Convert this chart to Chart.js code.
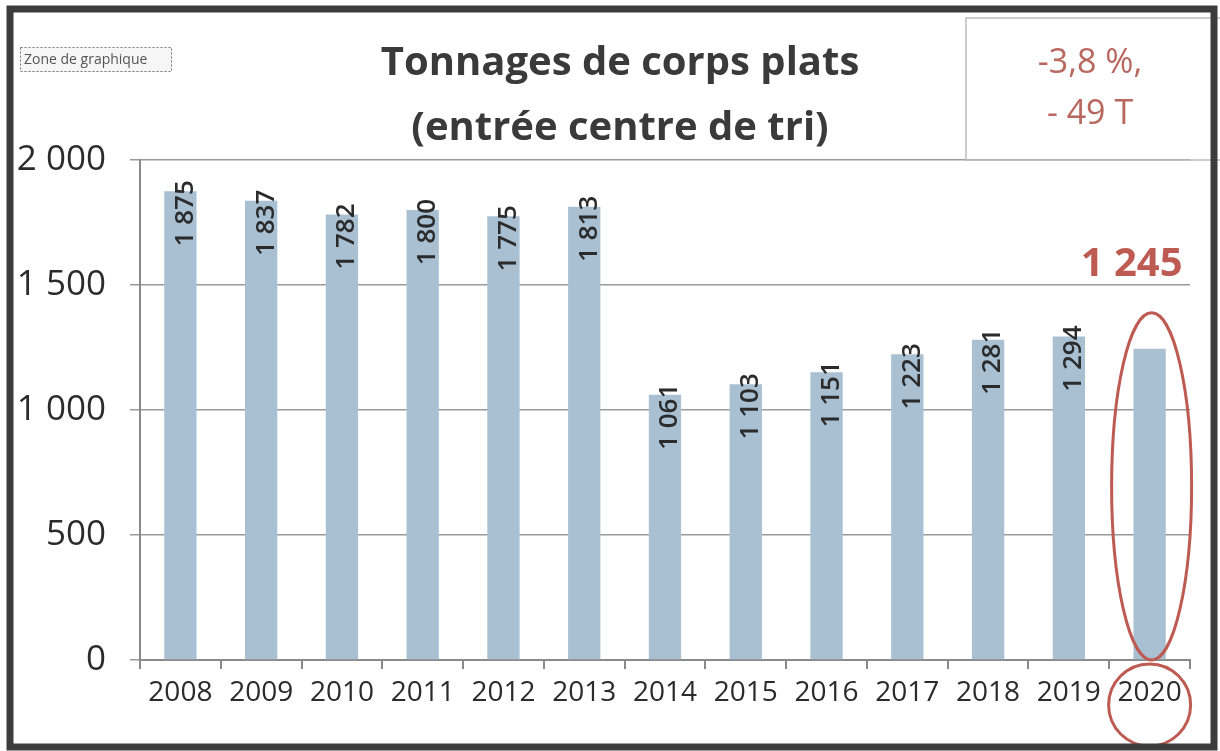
<!DOCTYPE html>
<html>
<head>
<meta charset="utf-8">
<script src="https://cdn.jsdelivr.net/npm/chart.js@4/dist/chart.umd.min.js"></script>
<style>
  html, body { margin: 0; padding: 0; background: #fff; }
  canvas { display: block; }
</style>
</head>
<body>
<canvas id="chart" width="1220" height="751"></canvas>
<script>
// données
const years = ['2008', '2009', '2010', '2011', '2012', '2013', '2014', '2015', '2016', '2017', '2018', '2019', '2020'];
const tonnages = [1875, 1837, 1782, 1800, 1775, 1813, 1061, 1103, 1151, 1223, 1281, 1294, 1245];
const yTicks = [0, 500, 1000, 1500, 2000];
const titleLines = ['Tonnages de corps plats', '(entrée centre de tri)'];
const deltaLines = ['-3,8 %,', '- 49 T'];

const RED = '#bd5b52';
const FONT = '"Open Sans", "DejaVu Sans", sans-serif';

function fmt(v) {
    return String(v).replace(/\B(?=(\d{3})+(?!\d))/g, ' ');
}

const decorPlugin = {
    id: 'decor',
    afterDraw(chart) {
        const ctx = chart.ctx;
        const x = chart.scales.x;
        const y = chart.scales.y;
        ctx.save();

        // étiquettes verticales dans les barres (sauf 2020)
        ctx.fillStyle = '#2b2b2b';
        ctx.font = '600 26px ' + FONT;
        ctx.textAlign = 'right';
        ctx.textBaseline = 'middle';
        tonnages.forEach(function(v, i) {
            if (i === tonnages.length - 1) return;
            const px = x.getPixelForValue(i) + 5;
            const py = y.getPixelForValue(v) - 11;
            ctx.save();
            ctx.translate(px, py);
            ctx.rotate(-Math.PI / 2);
            ctx.fillText(fmt(v), 0, 0);
            ctx.restore();
        });

        // titre
        ctx.fillStyle = '#3a3a3a';
        ctx.font = 'bold 40px ' + FONT;
        ctx.textAlign = 'center';
        ctx.fillText(titleLines[0], 620, 64);
        ctx.fillText(titleLines[1], 620, 129);

        // encadré en haut à droite
        ctx.strokeStyle = '#bdbdbd';
        ctx.lineWidth = 1.5;
        ctx.strokeRect(966, 18, 260, 142);
        ctx.fillStyle = '#b9685f';
        ctx.font = '34px ' + FONT;
        ctx.fillText(deltaLines[0], 1090, 63);
        ctx.fillText(deltaLines[1], 1090, 114);

        // valeur 2020 mise en avant
        const last = tonnages.length - 1;
        const cx = x.getPixelForValue(last);
        ctx.fillStyle = RED;
        ctx.font = 'bold 40px ' + FONT;
        ctx.fillText(fmt(tonnages[last]), cx - 18, 265);

        // ellipse autour de la barre 2020
        const top = y.getPixelForValue(tonnages[last]) - 36;
        const bottom = y.getPixelForValue(0);
        ctx.strokeStyle = RED;
        ctx.lineWidth = 3;
        ctx.beginPath();
        ctx.ellipse(cx + 2, (top + bottom) / 2, 40, (bottom - top) / 2, 0, 0, Math.PI * 2);
        ctx.stroke();

        // cercle autour de l'étiquette 2020
        ctx.beginPath();
        ctx.arc(cx, bottom + 45, 41, 0, Math.PI * 2);
        ctx.stroke();

        // étiquette "Zone de graphique"
        ctx.fillStyle = '#f6f6f6';
        ctx.fillRect(20, 47, 152, 25);
        ctx.setLineDash([2, 2]);
        ctx.strokeStyle = '#777';
        ctx.lineWidth = 1;
        ctx.strokeRect(20.5, 47.5, 151, 24);
        ctx.setLineDash([]);
        ctx.fillStyle = '#555';
        ctx.font = '14px ' + FONT;
        ctx.textAlign = 'left';
        ctx.fillText('Zone de graphique', 24, 60);

        // cadre extérieur
        ctx.strokeStyle = '#3c3c3c';
        ctx.lineWidth = 7;
        ctx.strokeRect(10, 9, 1204, 738);

        ctx.restore();
    }
};

new Chart(document.getElementById('chart').getContext('2d'), {
    type: 'bar',
    data: {
        labels: years,
        datasets: [{
            label: 'Tonnages',
            data: tonnages,
            backgroundColor: '#a9c0d3',
            categoryPercentage: 1,
            barPercentage: 0.4
        }]
    },
    options: {
        responsive: false,
        animation: false,
        layout: { padding: { top: 160, right: 30, left: 0, bottom: 0 } },
        plugins: {
            legend: { display: false },
            tooltip: { enabled: false },
            title: { display: false }
        },
        scales: {
            x: {
                grid: { display: true, drawOnChartArea: false, drawTicks: true, tickLength: 9, color: '#8a8a8a', lineWidth: 2 },
                border: { color: '#8a8a8a', width: 2 },
                ticks: { color: '#2b2b2b', font: { family: FONT, size: 28 }, padding: 7, maxRotation: 0 },
                afterFit: function(s) { s.height = 91; }
            },
            y: {
                min: 0,
                max: 2000,
                afterBuildTicks: function(s) { s.ticks = yTicks.map(function(v) { return { value: v }; }); },
                grid: { color: '#9a9a9a', lineWidth: 1.5, tickLength: 10 },
                border: { color: '#8a8a8a', width: 2 },
                ticks: {
                    color: '#2b2b2b',
                    font: { family: FONT, size: 35 },
                    padding: 24,
                    callback: function(v) { return fmt(v); }
                },
                afterFit: function(s) { s.width = 140; }
            }
        }
    },
    plugins: [decorPlugin]
});
</script>
</body>
</html>
